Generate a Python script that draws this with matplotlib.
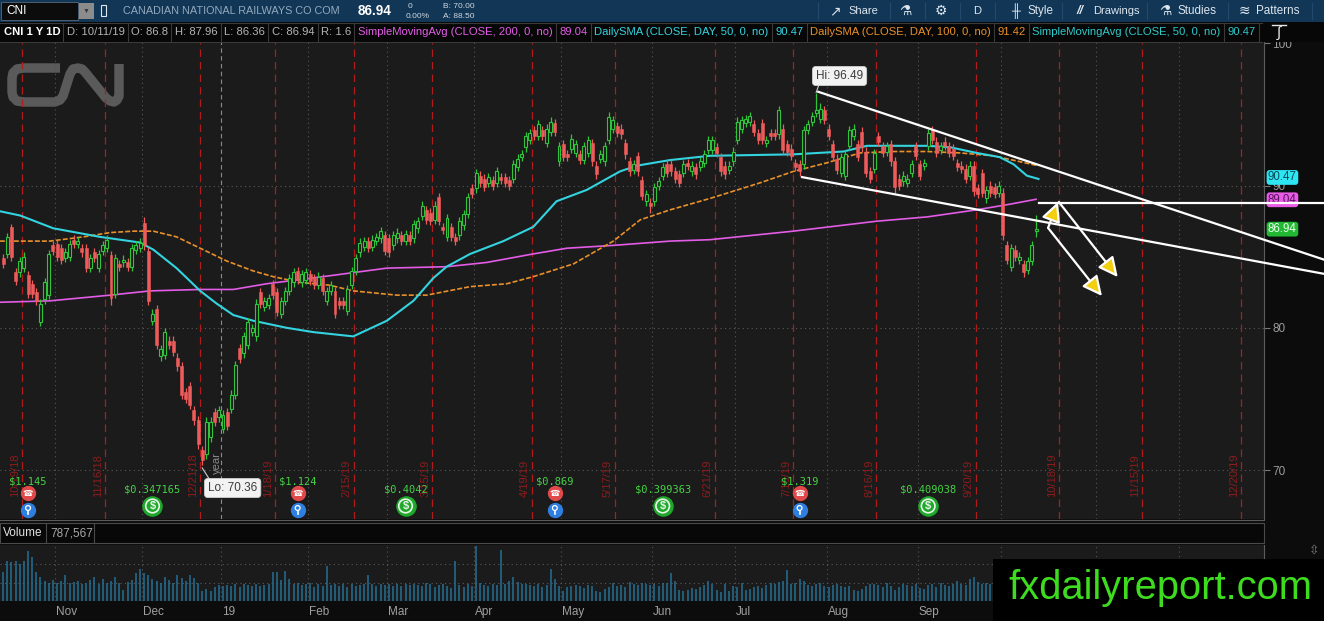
import numpy as np
import pandas as pd
import matplotlib
matplotlib.use("Agg")
import matplotlib.pyplot as plt
from matplotlib.patches import Rectangle, FancyArrowPatch
from matplotlib.transforms import Affine2D

W, H = 1324, 621
plt.rcParams["font.family"] = ["Liberation Sans", "DejaVu Sans"]

# ---------------- data ----------------
holidays = pd.to_datetime(["2018-11-22", "2018-12-05", "2018-12-25", "2019-01-01",
                           "2019-01-21", "2019-02-18", "2019-04-19", "2019-05-27",
                           "2019-07-04", "2019-09-02", "2019-11-28", "2019-12-25"])
days = pd.bdate_range("2018-10-11", "2020-01-31")
days = days[~days.isin(holidays)]

FIRST = 2  # first bar shown (bar 0 = 10/11/18)
opens = [
    84.9, 85.2, 87.1, 83.9, 83.9, 84.2, 83.7, 83.1, 82.5, 80.4,
    82.0, 82.3, 85.8, 85.9, 85.6, 84.9, 85.0, 86.2, 85.9, 85.6,
    85.6, 84.2, 85.3, 84.2, 85.4, 85.6, 85.1, 82.4, 84.5, 84.6,
    84.6, 84.3, 85.5, 85.6, 87.4, 85.4, 80.5, 81.3, 78.0, 78.1,
    79.1, 79.1, 77.9, 77.3, 75.5, 75.9, 74.2, 73.5, 71.4, 71.1,
    72.3, 74.1, 73.7, 72.9, 74.1, 74.3, 75.3, 78.6, 78.2, 78.8,
    79.7, 79.4, 82.5, 81.5, 81.6, 83.1, 82.5, 81.0, 81.9, 82.6,
    83.2, 84.0, 83.2, 83.4, 83.8, 83.5, 83.0, 83.5, 81.9, 82.6,
    82.6, 81.9, 81.9, 81.2, 83.0, 84.0, 85.3, 85.7, 86.1, 85.7,
    86.1, 86.3, 86.5, 86.3, 85.8, 86.3, 86.5, 86.1, 86.5, 86.3,
    87.0, 87.9, 88.3, 88.1, 87.6, 89.2, 87.1, 86.4, 87.1, 86.4,
    86.5, 87.2, 88.0, 89.8, 89.8, 90.7, 90.5, 90.2, 90.4, 90.2,
    90.6, 90.6, 90.4, 90.5, 91.3, 92.0, 92.7, 93.2, 93.9, 93.5,
    93.9, 93.0, 93.8, 94.4, 91.7, 92.9, 92.2, 92.6, 92.3, 92.2,
    91.8, 92.3, 93.0, 91.4, 91.9, 91.7, 93.2, 94.0, 94.2, 94.0,
    93.0, 91.7, 91.1, 92.1, 90.4, 88.9, 88.8, 88.9, 90.0, 90.7,
    91.5, 91.5, 91.0, 90.8, 90.9, 91.6, 91.0, 91.3, 91.3, 91.6,
    92.5, 92.5, 92.7, 92.0, 91.4, 91.1, 91.7, 93.2, 94.0, 94.4,
    94.5, 94.3, 93.7, 94.4, 93.0, 93.7, 93.7, 93.6, 94.0, 92.9,
    92.6, 91.6, 91.5, 91.5, 93.9, 94.5, 95.1, 94.7, 95.3, 94.0,
    92.9, 91.9, 90.9, 90.7, 92.8, 93.5, 92.9, 93.8, 92.4, 91.0,
    91.2, 93.5, 92.8, 92.4, 92.9, 91.7, 90.5, 90.3, 90.2, 90.9,
    92.8, 91.5, 91.4, 92.8, 93.9, 93.1, 92.5, 93.1, 92.8, 92.6,
    91.6, 91.4, 91.2, 90.7, 91.4, 89.8, 90.9, 89.1, 90.0, 89.9,
    89.5, 89.5, 85.8, 84.3, 85.5, 84.8, 84.5, 84.1, 84.7, 86.8,
]
closes = [
    84.5, 86.4, 85.0, 83.3, 84.7, 85.0, 82.4, 82.4, 81.9, 81.7,
    83.2, 85.2, 85.4, 85.0, 84.8, 85.3, 85.9, 85.9, 86.1, 85.3,
    84.2, 84.9, 84.9, 85.2, 85.8, 86.2, 82.1, 84.9, 84.3, 84.8,
    84.3, 85.6, 85.8, 86.0, 85.8, 81.9, 81.0, 78.8, 78.5, 79.7,
    78.8, 78.3, 77.3, 75.3, 75.0, 74.6, 73.5, 71.8, 70.7, 73.4,
    73.4, 73.4, 74.2, 73.9, 73.1, 75.3, 77.4, 77.8, 79.4, 80.4,
    80.0, 81.7, 81.7, 81.9, 82.1, 82.3, 81.1, 81.9, 82.6, 83.5,
    83.9, 83.4, 83.8, 83.9, 83.3, 83.0, 83.6, 82.6, 82.6, 83.0,
    81.0, 81.6, 81.6, 82.7, 84.0, 84.9, 86.0, 86.1, 85.6, 86.2,
    86.4, 86.8, 85.4, 85.3, 86.5, 86.7, 86.1, 86.6, 86.1, 87.3,
    87.5, 88.6, 87.6, 87.5, 88.6, 87.5, 86.9, 87.7, 86.4, 86.1,
    87.5, 88.0, 89.2, 89.4, 90.9, 90.2, 89.9, 90.6, 90.0, 91.0,
    90.4, 90.2, 90.0, 91.5, 91.9, 92.2, 93.5, 93.7, 93.5, 94.3,
    93.5, 94.0, 94.5, 93.8, 92.8, 92.0, 92.0, 93.3, 92.9, 91.8,
    92.8, 93.2, 91.7, 90.8, 92.2, 92.8, 94.8, 94.6, 93.7, 93.6,
    92.2, 91.0, 91.5, 91.0, 89.3, 89.4, 88.6, 89.9, 90.3, 91.3,
    90.9, 91.0, 90.5, 90.2, 91.5, 91.4, 91.4, 90.8, 91.7, 92.2,
    93.2, 93.2, 92.3, 91.0, 90.8, 91.4, 92.4, 94.5, 94.6, 94.7,
    94.9, 93.8, 93.2, 93.2, 93.2, 93.5, 93.5, 95.3, 92.5, 92.4,
    92.1, 91.3, 91.0, 93.9, 94.3, 94.9, 95.3, 95.4, 94.6, 93.5,
    92.0, 91.1, 92.0, 92.2, 93.9, 94.0, 92.0, 92.7, 90.9, 90.5,
    92.3, 93.1, 92.3, 92.8, 91.7, 89.9, 90.0, 90.7, 90.5, 91.5,
    92.1, 90.7, 91.6, 93.7, 93.2, 92.3, 92.8, 92.8, 92.3, 92.1,
    91.3, 91.2, 90.5, 91.4, 89.6, 89.4, 89.5, 89.7, 89.5, 89.4,
    90.0, 86.5, 84.8, 85.6, 85.0, 85.0, 83.9, 84.7, 85.8, 86.94,
]
# volume in millions of shares
volume = [
    1.6, 2.2, 2.1, 2.2, 2.0, 2.2, 2.7, 2.4, 1.6, 1.3,
    1.1, 1.0, 1.15, 1.0, 1.1, 1.4, 1.0, 1.05, 1.1, 0.95,
    1.0, 1.15, 1.3, 0.9, 1.2, 1.0, 1.1, 1.3, 1.0, 0.6,
    1.05, 1.15, 1.5, 1.75, 1.5, 1.4, 1.2, 1.1, 1.0, 1.3,
    1.15, 1.0, 1.4, 1.25, 1.1, 1.4, 1.25, 1.0, 0.55, 0.65,
    0.55, 0.75, 0.85, 0.8, 0.85, 0.8, 0.9, 0.75, 0.95, 0.85,
    0.8, 0.9, 0.8, 0.85, 0.95, 1.6, 1.6, 1.15, 1.65, 1.2,
    0.95, 1.0, 0.85, 0.9, 1.0, 0.75, 0.9, 0.8, 1.9, 0.85,
    0.9, 0.8, 0.95, 0.75, 0.9, 0.8, 0.85, 0.9, 1.4, 0.9,
    0.8, 0.95, 0.85, 0.9, 0.8, 0.9, 0.8, 0.95, 0.85, 0.9,
    0.85, 0.8, 1.0, 0.9, 0.75, 0.85, 0.9, 0.8, 0.7, 2.2,
    0.85, 0.75, 0.9, 0.8, 3.0, 1.0, 0.85, 0.8, 0.9, 0.85,
    2.8, 0.9, 1.1, 1.3, 1.05, 0.95, 0.9, 0.85, 0.8, 0.9,
    0.75, 0.85, 1.75, 1.2, 0.8, 0.55, 0.75, 0.8, 0.85, 0.8,
    0.7, 0.85, 0.8, 0.55, 0.5, 0.65, 0.75, 1.0, 0.8, 0.85,
    0.75, 1.05, 0.9, 0.85, 1.0, 0.95, 0.85, 0.9, 0.8, 1.0,
    1.0, 1.5, 1.1, 0.6, 0.55, 0.6, 0.7, 0.65, 0.75, 0.85,
    1.1, 0.9, 0.6, 0.5, 0.95, 0.55, 0.8, 0.75, 1.0, 0.6,
    0.65, 0.75, 0.8, 0.7, 0.85, 1.0, 0.95, 1.05, 1.1, 1.7,
    0.9, 1.0, 1.2, 1.1, 0.85, 0.8, 0.9, 1.0, 0.8, 0.75,
    0.85, 0.9, 0.8, 0.75, 0.8, 0.6, 0.55, 0.65, 0.8, 0.9,
    0.95, 0.85, 0.75, 1.0, 0.8, 0.6, 0.75, 0.95, 0.85, 0.8,
    0.9, 0.7, 0.65, 0.85, 0.9, 0.75, 1.0, 0.85, 0.8, 0.95,
    1.1, 0.9, 0.85, 1.2, 1.3, 1.05, 0.95, 1.0, 0.9, 1.1,
    1.0, 1.6, 1.4, 1.2, 0.95, 0.9, 1.0, 0.85, 0.9, 0.787567,
]
high_marks = {4: 87.3, 36: 87.8, 107: 89.5, 148: 95.2, 189: 95.6,
              198: 96.49, 199: 95.8, 251: 87.96}
low_marks = {11: 80.1, 28: 81.6, 50: 70.36, 158: 88.1, 217: 89.5,
             243: 86.2, 245: 84.0, 248: 83.6, 251: 86.36}

# moving-average studies as (bar, value)
sma200 = [(1.2, 81.8), (13.3, 81.9), (27.8, 82.3), (37.4, 82.6), (49.5, 82.7),
          (57.5, 82.7), (65.5, 83.1), (79.1, 83.6), (94.5, 84.2), (108.9, 84.3),
          (118.6, 84.6), (129.8, 85.2), (137.9, 85.6), (149.1, 85.8), (162.8, 86.1),
          (172.4, 86.2), (192.5, 86.8), (212.6, 87.5), (224.7, 87.8), (236.7, 88.3),
          (244.8, 88.7), (251, 89.04)]
sma50 = [(1.2, 88.2), (6.1, 87.9), (14.1, 87.0), (25.3, 86.4), (35.0, 86.0),
         (38.2, 85.5), (43.8, 84.2), (49.5, 82.6), (53.5, 81.7), (57.5, 80.9),
         (62.3, 80.5), (70.4, 80.0), (76.8, 79.7), (86.4, 79.4), (94.5, 80.5),
         (100.9, 81.9), (105.7, 83.5), (108.9, 84.3), (114.6, 85.2), (122.6, 86.1),
         (129.8, 87.1), (135.4, 88.9), (142.7, 89.7), (150.7, 91.0), (154.7, 91.4),
         (162.8, 91.8), (172.4, 92.1), (192.5, 92.2), (204.6, 92.4), (210.2, 92.8),
         (216.6, 92.8), (224.7, 92.8), (230.3, 92.7), (236.7, 92.3), (242.3, 92.0),
         (245.6, 91.5), (248.8, 90.7), (251.6, 90.47)]
sma100 = [(1.2, 86.1), (13.3, 86.1), (21.4, 86.4), (27.8, 86.7), (33.4, 86.8),
          (38.2, 86.8), (43.8, 86.4), (49.5, 85.6), (55.9, 84.7), (62.3, 84.0),
          (67.1, 83.6), (73.5, 83.2), (80.7, 83.0), (86.4, 82.6), (96.9, 82.3),
          (104.1, 82.3), (114.6, 82.9), (123.4, 83.1), (129.8, 83.6), (139.5, 84.5),
          (149.1, 86.1), (155.6, 87.6), (162.8, 88.3), (172.4, 89.1), (184.5, 90.2),
          (192.5, 91.0), (200.5, 91.6), (208.6, 92.3), (216.6, 92.4), (224.7, 92.4),
          (232.7, 92.3), (240.7, 92.1), (251.2, 91.42)]

expiries = pd.to_datetime(["2018-10-19", "2018-11-16", "2018-12-21", "2019-01-18",
                           "2019-02-15", "2019-03-15", "2019-04-19", "2019-05-17",
                           "2019-06-21", "2019-07-19", "2019-08-16", "2019-09-20",
                           "2019-10-18", "2019-11-15", "2019-12-20"])
earn_bars = [8, 73, 135, 194]
earn_eps = ["$1.145", "$1.124", "$0.869", "$1.319"]
div_bars = [38, 99, 161, 225]
div_amt = ["$0.347165", "$0.4042", "$0.399363", "$0.409038"]

# drawn trend lines and arrows (bar, price)
upper_line = [(198.5, 96.6), (320.4, 84.8)]
lower_line = [(194.6, 90.6), (320.4, 83.8)]
level_line = [(251.7, 88.78), (320.4, 88.78)]
arrows = [((253.9, 87.03), (256.3, 88.85)),
          ((256.5, 88.85), (270.7, 83.57)),
          ((253.9, 87.03), (266.9, 82.24))]

# ---------------- layout ----------------
X0, X1 = 1.24, 305.96
Y0, Y1 = 66.56, 100.1
BG = "#1b1b1b"
UP, DN = "#2fc53a", "#ee5b5b"
MAG, CYAN, ORANGE, CYAN2 = "#e25ce6", "#33d3df", "#e8902a", "#2fc8c8"


def xpx(i):
    return (i - X0) / (X1 - X0) * 1264


def ypx(p):
    return 42 + (Y1 - p) / (Y1 - Y0) * 477


fig = plt.figure(figsize=(W / 100, H / 100), dpi=100)
fig.patch.set_facecolor("#0c0c0c")
ax = fig.add_axes([0, 1 - 519 / H, 1264 / W, 477 / H], facecolor=BG)
vax = fig.add_axes([0, 1 - 601 / H, 1264 / W, 56 / H], facecolor=BG)
ov = fig.add_axes([0, 0, 1, 1])
ov.set_xlim(0, W)
ov.set_ylim(H, 0)
ov.set_axis_off()
ov.set_zorder(5)
PIX = Affine2D().scale(1, -1).translate(0, H)

for a in (ax, vax):
    a.set_xlim(X0, X1)
    for s in ("top", "left", "bottom"):
        a.spines[s].set_visible(False)
    a.spines["right"].set_color("#5c5c5c")
    a.tick_params(axis="x", bottom=False, labelbottom=False)
ax.set_ylim(Y0, Y1)
ax.yaxis.tick_right()
ax.set_yticks([70, 80, 90, 100])
ax.tick_params(axis="y", colors="#777777", labelcolor="#9c9c9c", length=4,
               width=0.8, pad=2, labelsize=8.5)
vax.set_ylim(0, 3.05)
vax.set_yticks([])

# CN logo
logo_x = [60, 24, 17, 13, 12, 12, 13, 17, 24, 55, 60, 63, 70, 73, 78, 82, 85, 106, 110, 114, 117, 119, 119]
logo_y = [68, 68, 69, 73, 78, 92, 97, 101, 102, 102, 100, 96, 74, 69, 68, 69, 72, 98, 101, 102, 100, 96, 64]
ax.plot(logo_x, logo_y, transform=PIX, color="#5a5a5a", lw=6.8,
        solid_joinstyle="round", solid_capstyle="butt", zorder=0.5)

# month grid, year line
months = []
for m in pd.date_range("2018-11-01", "2019-12-01", freq="MS"):
    k = days.searchsorted(m)
    months.append((k, "19" if (m.month == 1) else m.strftime("%b")))
for k, lab in months:
    if lab == "19":
        ax.axvline(k - 0.5, color="#8a8a8a", lw=0.8, ls=(0, (4, 3)), zorder=0.8)
    else:
        ax.axvline(k - 0.5, color="#555555", lw=0.8, ls=(0, (1, 3)), zorder=0.8)
    vax.axvline(k - 0.5, color="#555555", lw=0.8, ls=(0, (1, 3)), zorder=0.8)
    ov.text(xpx(k - 0.5) + 1, 612, lab, color="#a0a0a0", fontsize=8.5,
            ha="left", va="center", zorder=1)
for p in (70, 80, 90):
    ax.axhline(p, color="#5a5a5a", lw=0.8, ls=(0, (1, 3)), zorder=0.8)
for v in (1, 2):
    vax.axhline(v, color="#5a5a5a", lw=0.8, ls=(0, (1, 3)), zorder=0.8)
jan = [k for k, lab in months if lab == "19"][0]
ax.text(jan - 1.4, 70.5, "year", rotation=90, color="#8a8a8a", fontsize=8,
        ha="center", va="center", zorder=1)

# expiration lines
for d in expiries:
    k = days.searchsorted(d, side="right") - 0.5
    ax.axvline(k, color="#b01c1c", lw=0.9, ls=(0, (6, 4)), zorder=1.5)
    ax.text(k - 0.5, 68.11, f"{d.month}/{d.day}/{d:%y}", rotation=90,
            color="#8e1c1c", fontsize=8, ha="right", va="bottom", zorder=1.5)

# moving averages
for pts, col, ls, lw in ((sma200, MAG, "-", 1.2), (sma100, ORANGE, (0, (3, 1.2)), 1.2),
                         (sma50, CYAN, "-", 1.5)):
    xs, ys = zip(*pts)
    ax.plot(xs, ys, color=col, ls=ls, lw=lw, zorder=2)

# candles
n = len(closes)
idx = np.arange(FIRST, FIRST + n)
o = np.array(opens)
c = np.array(closes)
hi = np.maximum(o, c) + 0.3
lo = np.minimum(o, c) - 0.3
for k, v in high_marks.items():
    hi[k - FIRST] = v
for k, v in low_marks.items():
    lo[k - FIRST] = v
up = c >= o
bot = np.minimum(o, c)
ht = np.maximum(np.abs(c - o), 0.07)
ax.vlines(idx[up], lo[up], hi[up], color=UP, lw=0.9, zorder=3)
ax.vlines(idx[~up], lo[~up], hi[~up], color=DN, lw=0.9, zorder=3)
ax.bar(idx[up], ht[up], bottom=bot[up], width=0.72, facecolor=BG,
       edgecolor=UP, lw=0.8, zorder=4)
ax.bar(idx[~up], ht[~up], bottom=bot[~up], width=0.72, color=DN,
       edgecolor=DN, lw=0.4, zorder=4)

# volume
vax.vlines(idx, 0, volume, color="#236f94", lw=1.1, zorder=2)

# Hi / Lo labels
ilo = int(np.argmin(lo))
ihi = int(np.argmax(hi))
box = dict(boxstyle="round,pad=0.3,rounding_size=0.3", fc="#f2f2f2", ec="#cfcfcf", lw=0.6)
ov.plot([xpx(idx[ilo]), xpx(idx[ilo]) + 7], [ypx(lo[ilo]) + 3, 479], color="#cfcfcf", lw=0.8, zorder=3)
ov.text(208, 488, f"Lo: {lo[ilo]:.2f}", color="#3a3a3a", fontsize=8.5,
        ha="left", va="center", bbox=box, zorder=3)
ov.plot([xpx(idx[ihi]), xpx(idx[ihi]) + 3], [ypx(hi[ihi]) - 1, 84], color="#cfcfcf", lw=0.8, zorder=3)
ov.text(816, 76, f"Hi: {hi[ihi]:.2f}", color="#3a3a3a", fontsize=8.5,
        ha="left", va="center", bbox=box, zorder=3)

# earnings and dividend markers
for k, s in zip(earn_bars, earn_eps):
    x = xpx(k)
    ov.text(x, 481, s, color="#46d246", fontsize=7.5, family="DejaVu Sans Mono",
            ha="center", va="center", zorder=3)
    ov.scatter([x], [493], s=100, color="#e04a4a", zorder=3)
    ov.text(x, 493.5, "\u260e", color="white", fontsize=6, ha="center", va="center",
            family="DejaVu Sans", zorder=4)
    ov.scatter([x], [510], s=100, color="#2f7fe0", zorder=3)
    ov.scatter([x], [508], s=12, facecolor="none", edgecolor="white", lw=0.9, zorder=4)
    ov.plot([x, x], [510.5, 514], color="white", lw=1.2, zorder=4)
for k, s in zip(div_bars, div_amt):
    x = xpx(k)
    ov.text(x, 490, s, color="#46d246", fontsize=7.5, family="DejaVu Sans Mono",
            ha="center", va="center", zorder=3)
    ov.scatter([x], [506], s=190, color="#1fa82b", zorder=3)
    ov.scatter([x], [506], s=95, facecolor="none", edgecolor="#e8f5e8", lw=1.2, zorder=4)
    ov.text(x, 506.5, "$", color="#e8f5e8", fontsize=8, fontweight="bold",
            ha="center", va="center", zorder=4)

# price-scale value boxes
for v, fc, tc, dy in ((90.47, "#2ee6f2", "#0b4a5a", -1.5), (89.04, "#e85ce8", "#5a115a", 0.5),
                      (closes[-1], "#22b834", "#eaffea", 0)):
    ov.text(1268, ypx(v) + dy, f"{v:.2f}", color=tc, fontsize=8.3, ha="left", va="center",
            bbox=dict(boxstyle="round,pad=0.12,rounding_size=0.25", fc=fc, ec="none"),
            zorder=3)

# trend lines and arrows
for ln in (upper_line, lower_line, level_line):
    (xa, pa), (xb, pb) = ln
    ov.plot([xpx(xa), xpx(xb)], [ypx(pa), ypx(pb)], color="white", lw=1.6, zorder=4)
for (xa, pa), (xb, pb) in arrows:
    ov.add_patch(FancyArrowPatch((xpx(xa), ypx(pa)), (xpx(xb), ypx(pb)),
                                 arrowstyle="-|>,head_length=0.85,head_width=0.42",
                                 mutation_scale=14, fc="#f2cf10", ec="white",
                                 lw=1.6, zorder=4, shrinkA=0, shrinkB=0))

# ---------------- header ----------------
R = fig.canvas.get_renderer()


def fit(x, y, s, width, size=9, **kw):
    t = ov.text(x, y, s, fontsize=size, ha="left", va="center", **kw)
    w = t.get_window_extent(renderer=R).width
    t.set_fontsize(size * width / w)
    return t


ov.add_patch(Rectangle((0, 0), W, 22, fc="#113656", ec="none", zorder=6))
ov.add_patch(Rectangle((0, 22), W, 20, fc="#070707", ec="none", zorder=6))
ov.plot([0, 1262], [22.5, 22.5], color="#3a3a3a", lw=0.8, zorder=7)
ov.plot([0, 1262], [41.5, 41.5], color="#3a3a3a", lw=0.8, zorder=7)

ov.add_patch(Rectangle((1, 2), 77, 18, fc="#0c0c0c", ec="#56687a", lw=0.6, zorder=7))
ov.text(6, 11, "CNI", color="white", fontsize=8.5, va="center", zorder=8)
ov.add_patch(Rectangle((79, 3), 15, 16, fc="#8c8c8c", ec="none", zorder=7))
ov.text(86.5, 11, "\u25bc", color="#3a3a3a", fontsize=5, ha="center", va="center", zorder=8)
ov.add_patch(Rectangle((101, 5), 5, 11, fc="none", ec="#dfe6ec", lw=0.8, zorder=7))
fit(123, 11, "CANADIAN NATIONAL RAILWAYS CO COM", 217, color="#93a9bd", zorder=8)
fit(358, 11, f"{closes[-1]:.2f}", 34, color="white", fontweight="bold", zorder=8)
ov.text(408, 7, "0", color="#d0d8e0", fontsize=6, va="center", zorder=8)
ov.text(406, 16, "0.00%", color="#d0d8e0", fontsize=6, va="center", zorder=8)
ov.text(443, 7, "B: 70.00", color="#d0d8e0", fontsize=6, va="center", zorder=8)
ov.text(443, 16, "A: 88.50", color="#d0d8e0", fontsize=6, va="center", zorder=8)

TB = "#dde6ee"
for x in (818, 890, 925, 960, 995, 1062, 1147, 1228, 1312):
    ov.plot([x, x], [3, 19], color="#24496b", lw=0.8, zorder=7)
ov.text(835, 11, "\u2197", color=TB, fontsize=10, ha="center", va="center", zorder=8)
fit(848, 11, "Share", 30, color=TB, zorder=8)
ov.text(905, 11, "\u2697", color=TB, fontsize=10, ha="center", va="center", zorder=8)
ov.text(941, 11, "\u2699", color=TB, fontsize=10, ha="center", va="center", zorder=8)
ov.text(977, 11, "D", color=TB, fontsize=8, ha="center", va="center", zorder=8)
ov.text(1016, 11, "\u256b", color=TB, fontsize=9, ha="center", va="center", zorder=8)
fit(1027, 11, "Style", 26, color=TB, zorder=8)
ov.text(1080, 11, "//", color=TB, fontsize=9, fontweight="bold", style="italic",
        ha="center", va="center", zorder=8)
fit(1093, 11, "Drawings", 47, color=TB, zorder=8)
ov.text(1165, 11, "\u2697", color=TB, fontsize=10, ha="center", va="center", zorder=8)
fit(1178, 11, "Studies", 39, color=TB, zorder=8)
ov.text(1244, 11, "\u224b", color=TB, fontsize=10, ha="center", va="center", zorder=8)
fit(1256, 11, "Patterns", 44, color=TB, zorder=8)

GR = "#b4b4b4"
row2 = [("CNI 1 Y 1D", "white", "bold"), ("D: 10/11/19", GR, "normal"),
        (f"O: {opens[-1]:g}", GR, "normal"), (f"H: {hi[-1]:.2f}", GR, "normal"),
        (f"L: {lo[-1]:.2f}", GR, "normal"), (f"C: {closes[-1]:.2f}", GR, "normal"),
        (f"R: {hi[-1] - lo[-1]:.1f}", GR, "normal"),
        ("SimpleMovingAvg (CLOSE, 200, 0, no)", MAG, "normal"), (f"{sma200[-1][1]:.2f}", MAG, "normal"),
        ("DailySMA (CLOSE, DAY, 50, 0, no)", CYAN, "normal"), (f"{sma50[-1][1]:.2f}", CYAN, "normal"),
        ("DailySMA (CLOSE, DAY, 100, 0, no)", ORANGE, "normal"), (f"{sma100[-1][1]:.2f}", ORANGE, "normal"),
        ("SimpleMovingAvg (CLOSE, 50, 0, no)", CYAN2, "normal"), (f"{sma50[-1][1]:.2f}", CYAN2, "normal")]
texts = [ov.text(0, 32, s, color=col, fontweight=wt, fontsize=8, ha="left",
                 va="center", zorder=8) for s, col, wt in row2]
widths = [t.get_window_extent(renderer=R).width for t in texts]
pad = 3.5
scale = (1259 - 2 * pad * len(texts)) / sum(widths)
x = 0
for t, w in zip(texts, widths):
    t.set_fontsize(8 * scale)
    t.set_x(x + pad)
    x += w * scale + 2 * pad
    ov.plot([x, x], [23, 41], color="#3a3a3a", lw=0.8, zorder=7)
ov.text(1279, 33, "\u222b", color="#e6e6e6", fontsize=11, ha="center", va="center", zorder=8)
ov.plot([1272, 1286], [25, 25], color="#e6e6e6", lw=1.0, zorder=8)

# volume header
ov.plot([0, 1264], [520, 520], color="#5a5a5a", lw=0.8, zorder=6)
ov.add_patch(Rectangle((0, 523), 1264, 20, fc="#080808", ec="#4a4a4a", lw=0.8, zorder=6))
ov.text(3, 533, "Volume", color="#e2e2e2", fontsize=8.5, va="center", zorder=7)
ov.plot([46, 46], [524, 542], color="#4a4a4a", lw=0.8, zorder=7)
ov.text(50, 533, f"{volume[-1] * 1e6:,.0f}", color="#a8a8a8", fontsize=8.5, va="center", zorder=7)
ov.plot([94, 94], [524, 542], color="#4a4a4a", lw=0.8, zorder=7)
ov.text(1314, 551, "\u21f3", color="#777777", fontsize=9, ha="center", va="center", zorder=7)

# watermark
ov.add_patch(Rectangle((993, 559), 331, 62, fc="black", ec="none", zorder=20))
fit(1008, 588, "fxdailyreport.com", 304, size=28, color="#3ddc1f", zorder=21)

fig.savefig("out.png", dpi=100, facecolor=fig.get_facecolor())
